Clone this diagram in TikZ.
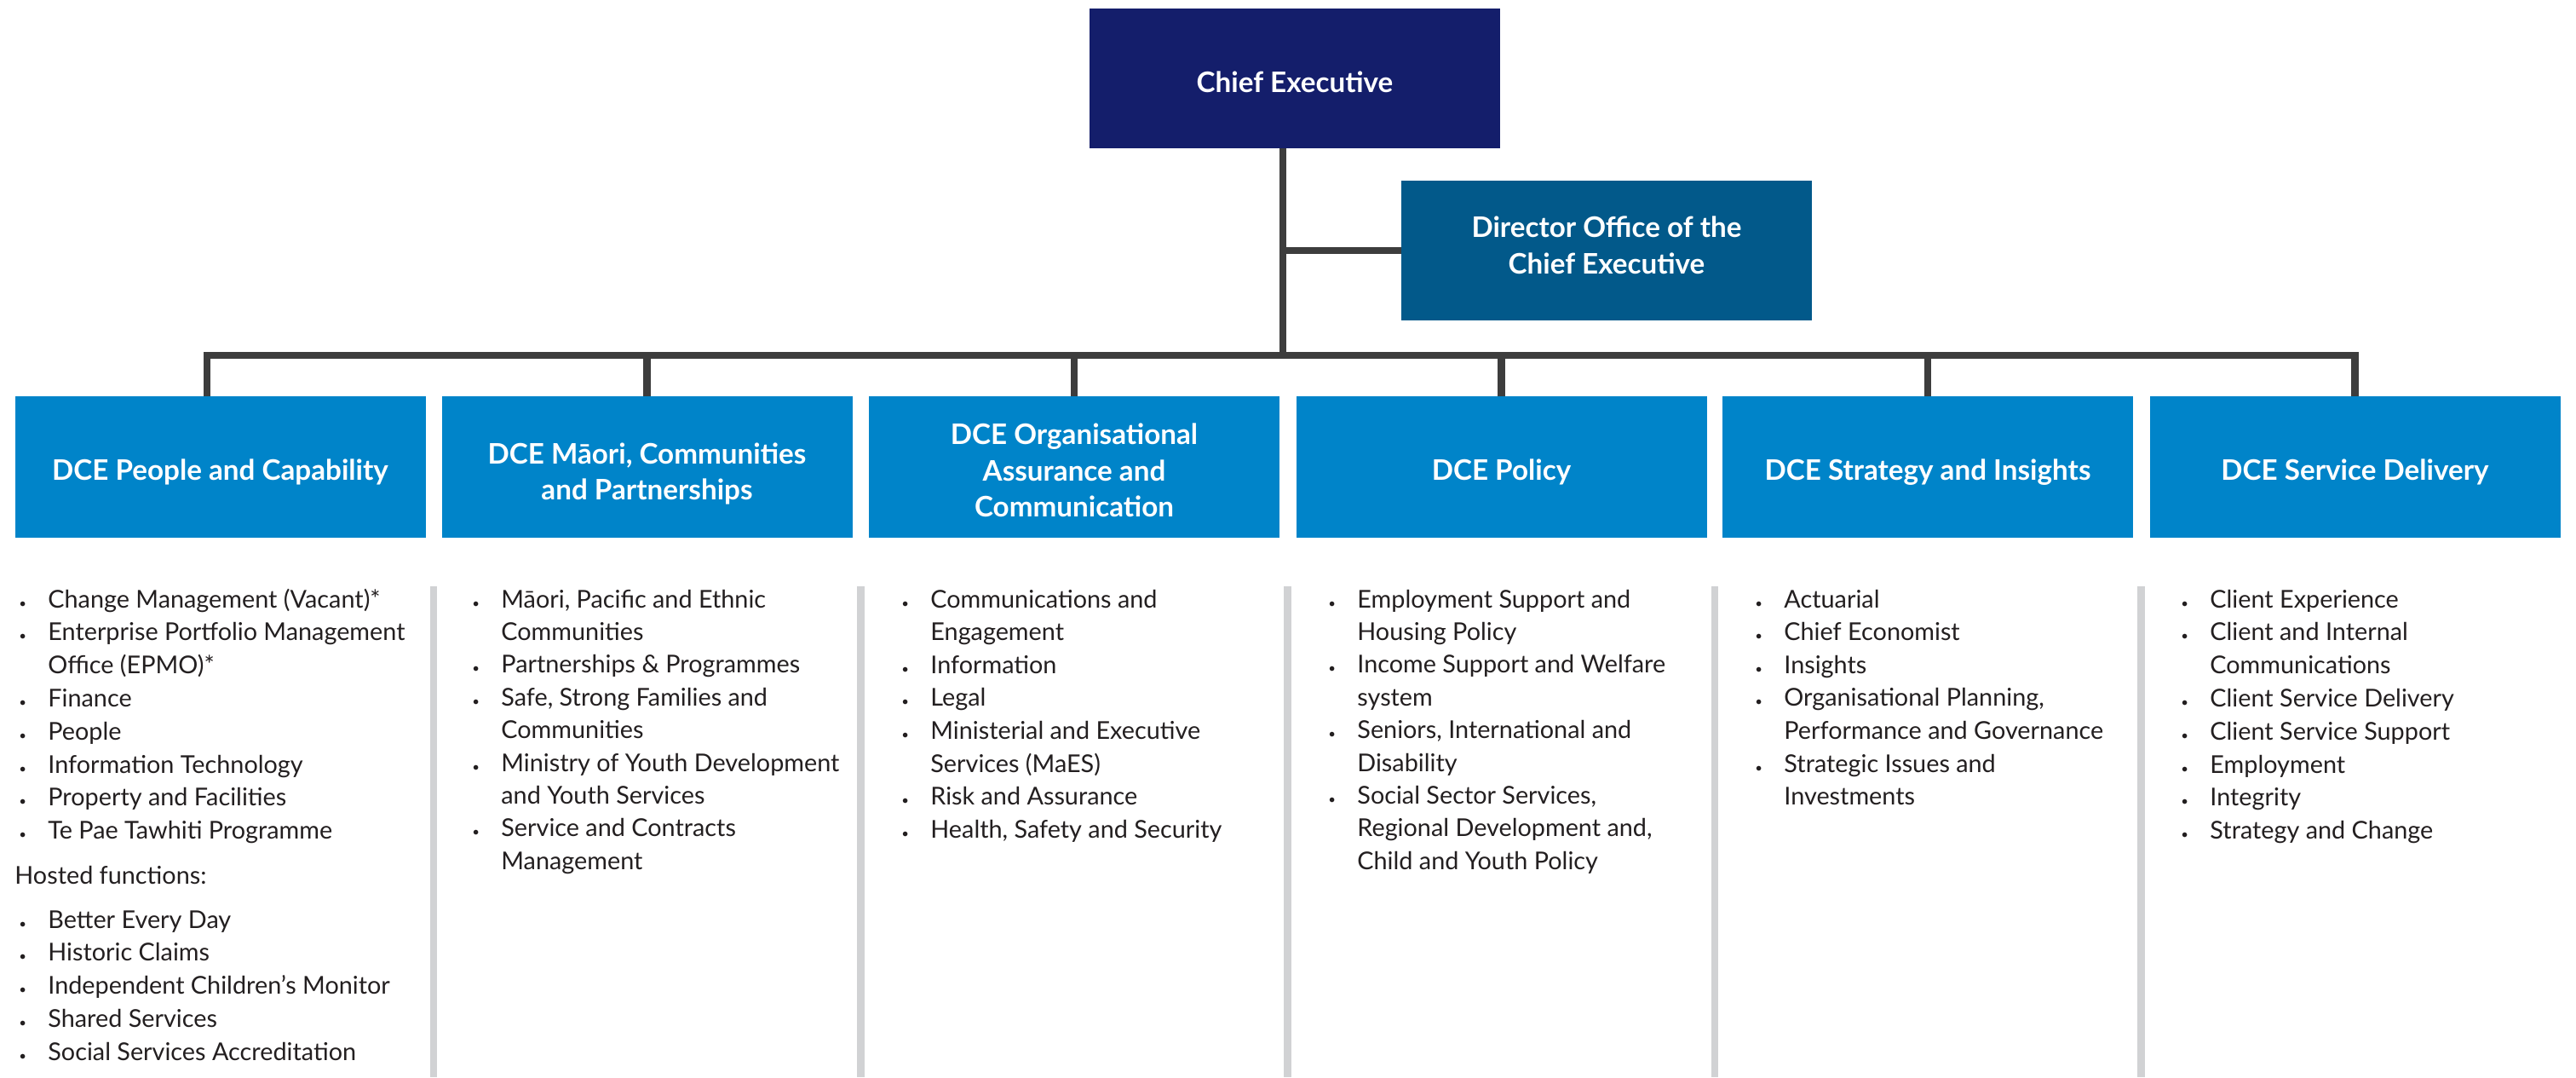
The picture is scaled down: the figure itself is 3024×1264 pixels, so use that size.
\documentclass[tikz,border=0pt]{standalone}
\usepackage{fontspec}
\setmainfont{Lato}
\definecolor{ceblue}{HTML}{141E6B}
\definecolor{dirblue}{HTML}{02598A}
\definecolor{dceblue}{HTML}{0084C9}
\definecolor{connc}{HTML}{3D3D3D}
\definecolor{sepgray}{HTML}{D1D2D4}
\definecolor{txt}{HTML}{231F20}
\newcommand\B{\llap{\makebox[17pt][l]{\fontsize{7.5}{7.5}\selectfont\textbullet}}}
\begin{document}
\begin{tikzpicture}[x=0.5pt,y=-0.5pt,
  box/.style={minimum width=241pt,minimum height=82pt,inner sep=0pt},
  boxtext/.style={inner sep=0pt,align=center,text=white,
    font=\bfseries\fontsize{16.6}{21.25}\selectfont},
  conn/.style={draw=connc,line width=4.25pt},
  sepline/.style={draw=sepgray,line width=4.25pt},
  item/.style={anchor=base west,inner sep=0pt,text=txt,font=\fontsize{14.4}{19.3}\selectfont}]
\useasboundingbox (0,0) rectangle (3024,1264);
\fill[white] (0,0) rectangle (3024,1264);
% top boxes
\node[box,fill=ceblue] (CE) at (1520,92) {};
\node[boxtext] (CEt) at ([yshift=-2pt]CE.center) {Chief Executive};
\node[box,fill=dirblue] (Dir) at (1886,294) {};
\node[boxtext] (Dirt) at ([yshift=3pt]Dir.center) {Director Office of the\\Chief Executive};
% DCE boxes
\node[box,fill=dceblue,minimum height=83pt] (D1) at (258.5,548) {};
\node[box,fill=dceblue,minimum height=83pt] (D2) at (759.5,548) {};
\node[box,fill=dceblue,minimum height=83pt] (D3) at (1261,548) {};
\node[box,fill=dceblue,minimum height=83pt] (D4) at (1762.5,548) {};
\node[box,fill=dceblue,minimum height=83pt] (D5) at (2263,548) {};
\node[box,fill=dceblue,minimum height=83pt] (D6) at (2764.5,548) {};
\node[boxtext] (D1t) at ([yshift=-3pt]D1.center) {DCE People and Capability};
\node[boxtext] (D2t) at ([yshift=-4pt]D2.center) {DCE Māori, Communities\\and Partnerships};
\node[boxtext] (D3t) at ([yshift=-2pt]D3.center) {DCE Organisational\\Assurance and\\Communication};
\node[boxtext] (D4t) at ([yshift=-3pt]D4.center) {DCE Policy};
\node[boxtext] (D5t) at ([yshift=-3pt]D5.center) {DCE Strategy and Insights};
\node[boxtext] (D6t) at ([yshift=-3pt]D6.center) {DCE Service Delivery};
% connectors
\coordinate (t) at (1506,417);
\coordinate (b1) at (243,417);
\coordinate (b6) at (D6.north |- t);
\draw[conn] (CE.south -| t) -- (t);
\draw[conn] (t |- Dir.west) -- (Dir.west);
\draw[conn,line join=miter] (b1 |- D1.north) -- (b1) -- (b6) -- (D6.north);
\foreach \k in {2,3,4,5} \draw[conn] (D\k.north |- t) -- (D\k.north);
% separators
\foreach \sx in {509,1010.5,1511.5,2013,2513.5} \draw[sepline] (\sx,688) -- (\sx,1264);
% column 1
\foreach \tx [count=\i from 0] in {{\B Change Management (Vacant)*},{\B Enterprise Portfolio Management},{Office (EPMO)*},{\B Finance},{\B People},{\B Information Technology},{\B Property and Facilities},{\B Te Pae Tawhiti Programme}}
  \node[item,name=ca\i] at (56,713+\i*38.8) {\tx};
\node[item] (hosted) at (17,1037) {Hosted functions:};
\foreach \tx [count=\i from 0] in {{\B Better Every Day},{\B Historic Claims},{\B Independent Children’s Monitor},{\B Shared Services},{\B Social Services Accreditation}}
  \node[item,name=cb\i] at (56,1089+\i*38.8) {\tx};
% column 2
\foreach \tx [count=\i from 0] in {{\B Māori, Pacific and Ethnic},{Communities},{\B Partnerships \& Programmes},{\B Safe, Strong Families and},{Communities},{\B Ministry of Youth Development},{and Youth Services},{\B Service and Contracts},{Management}}
  \node[item,name=cc\i] at (588,713+\i*38.4) {\tx};
% column 3
\foreach \tx [count=\i from 0] in {{\B Communications and},{Engagement},{\B Information},{\B Legal},{\B Ministerial and Executive},{Services (MaES)},{\B Risk and Assurance},{\B Health, Safety and Security}}
  \node[item,name=cd\i] at (1092,713+\i*38.6) {\tx};
% column 4
\foreach \tx [count=\i from 0] in {{\B Employment Support and},{Housing Policy},{\B Income Support and Welfare},{system},{\B Seniors, International and},{Disability},{\B Social Sector Services,},{Regional Development and,},{Child and Youth Policy}}
  \node[item,name=ce\i] at (1593,713+\i*38.4) {\tx};
% column 5
\foreach \tx [count=\i from 0] in {{\B Actuarial},{\B Chief Economist},{\B Insights},{\B Organisational Planning,},{Performance and Governance},{\B Strategic Issues and},{Investments}}
  \node[item,name=cf\i] at (2094,713+\i*38.6) {\tx};
% column 6
\foreach \tx [count=\i from 0] in {{\B Client Experience},{\B Client and Internal},{Communications},{\B Client Service Delivery},{\B Client Service Support},{\B Employment},{\B Integrity},{\B Strategy and Change}}
  \node[item,name=cg\i] at (2594,713+\i*38.8) {\tx};
\end{tikzpicture}
\end{document}
